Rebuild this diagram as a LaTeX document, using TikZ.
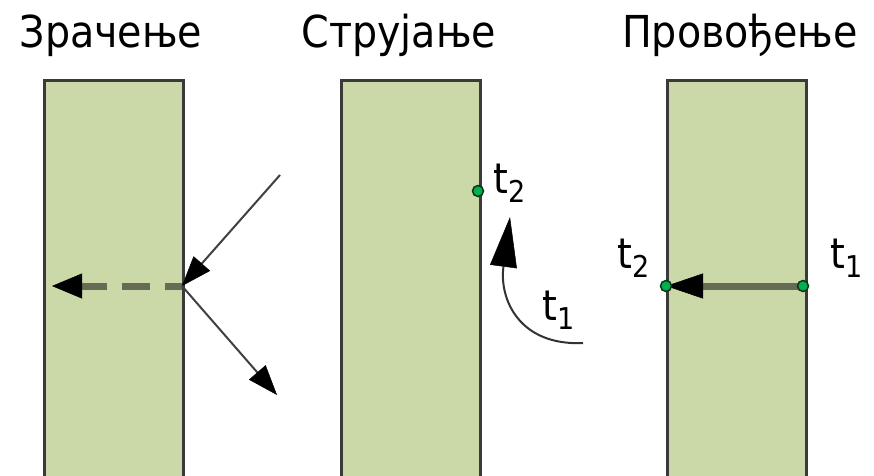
\documentclass[tikz,border=0pt]{standalone}
\usepackage{fontspec}
\setmainfont{DejaVu Sans Condensed}
\usetikzlibrary{arrows.meta}

\definecolor{slabfill}{HTML}{CBD9A8}
\definecolor{slabedge}{HTML}{3A3A3A}
\definecolor{flow}{HTML}{666B55}
\definecolor{dotgreen}{HTML}{00B050}
\definecolor{dotedge}{HTML}{0C3518}

% temperature label: t with a lowered index
\newcommand\tlab[1]{t\raisebox{-9pt}{\fontsize{30}{30}\selectfont #1}}

\tikzset{
  slab/.style={draw=slabedge, fill=slabfill, line width=3pt, rectangle,
    minimum width=139pt, minimum height=420pt, anchor=north west, inner sep=0pt},
  title/.style={font=\fontsize{44}{44}\selectfont, anchor=base, inner sep=0pt},
  tlabel/.style={font=\fontsize{42}{42}\selectfont, anchor=base west, inner sep=0pt},
  probe/.style={circle, fill=dotgreen, draw=dotedge, line width=1.5pt,
    minimum size=11pt, inner sep=0pt},
  ray/.style={draw=black!75, line width=2pt,
    -{Triangle[length=30pt, width=22pt, color=black, line width=0.5pt]}},
  absorbed/.style={draw=flow, line width=7pt, dash pattern=on 28pt off 15pt,
    dash phase=11pt, -{Triangle[length=30pt, width=25pt, color=black, line width=0.5pt]}},
  stream/.style={draw=black!80, line width=2pt,
    -{Triangle[length=50pt, width=27pt, color=black, line width=0.5pt]}},
  conduct/.style={draw=flow, line width=7pt,
    -{Triangle[length=37pt, width=25pt, color=black, line width=0.5pt]}},
}

\begin{document}
\begin{tikzpicture}[x=1pt, y=-1pt]
\useasboundingbox (0,0) rectangle (874,475);

% slabs
\node[slab] (s1) at (43,79) {};
\node[slab] (s2) at (340,79) {};
\node[slab] (s3) at (666,79) {};

% headings
\node[title] (h1) at (111,47) {Зрачење};
\node[title] (h2) at (399,47) {Струјање};
\node[title] (h3) at (740,47) {Провођење};

% radiation: incident ray, reflected ray, absorbed part
\coordinate (hit) at (182,286);
\coordinate (src) at (280,175);
\coordinate (refl) at (277,395);
\coordinate (absend) at (52,286);
\draw[absorbed] (hit) -- (absend);
\draw[ray] (src) -- (hit);
\draw[ray] (hit) -- (refl);

% convection
\node[probe] (p2) at (478,191) {};
\coordinate (fluid) at (583,343);
\coordinate (rise) at (510,217);
\draw[stream] (fluid) .. controls (520,346) and (499,300) .. (rise);
\node[tlabel] (l22) at (493,193) {\tlab{2}};
\node[tlabel] (l21) at (542,320) {\tlab{1}};

% conduction: arrow first, probes on top
\coordinate (c3r) at (803,286);
\coordinate (c3l) at (666,286);
\draw[conduct] (c3r) -- (c3l);
\node[probe] (p3r) at (c3r) {};
\node[probe] (p3l) at (c3l) {};
\node[tlabel] (l32) at (617,268) {\tlab{2}};
\node[tlabel] (l31) at (830,268) {\tlab{1}};
\end{tikzpicture}
\end{document}
